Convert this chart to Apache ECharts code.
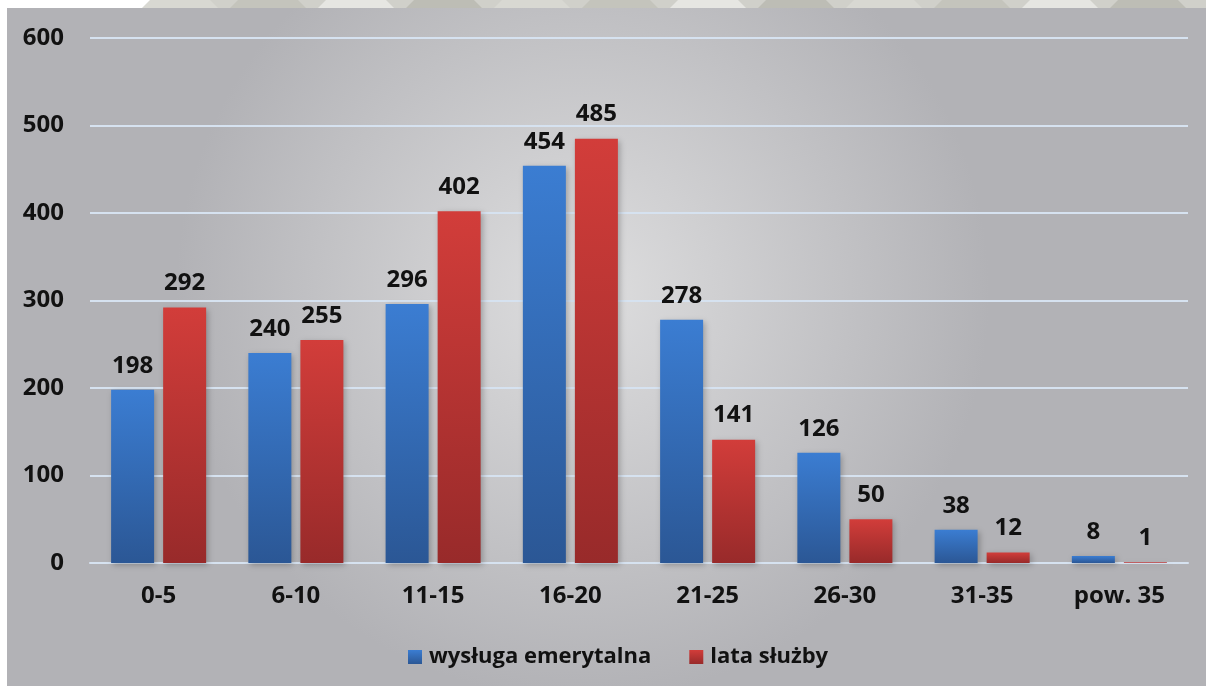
<!DOCTYPE html>
<html><head><meta charset="utf-8">
<script src="https://cdn.jsdelivr.net/npm/echarts@6/dist/echarts.min.js"></script>
<style>html,body{margin:0;padding:0;background:#fff;}#c{width:1206px;height:686px;}</style>
</head><body><div id="c"></div>
<script>
const categories = ['0-5','6-10','11-15','16-20','21-25','26-30','31-35','pow. 35'];
const wysluga = [198,240,296,454,278,126,38,8];
const lata = [292,255,402,485,141,50,12,1];
const seriesNames = ['wysługa emerytalna','lata służby'];

const chart = echarts.init(document.getElementById('c'));
const font = '"Open Sans", Lato, sans-serif';
function grad(top, bottom){
  return new echarts.graphic.LinearGradient(0,0,0,1,[{offset:0,color:top},{offset:1,color:bottom}]);
}
const hexes = [];
for (let i=0;i<12;i++){
  const x0 = 150 + i*88;
  hexes.push({type:'polygon', shape:{points:[[x0,0],[x0+60,0],[x0+68,8],[x0-8,8]]},
    style:{fill: ['#d8d8d2','#c4c4bc','#e6e6e2','#bdbdb5'][i%4]}, z:-10});
}
const txt = {fontFamily:font,fontWeight:'bold',fontSize:24,color:'#111'};
chart.setOption({
  animation:false,
  graphic:[
    {type:'rect', shape:{x:7,y:8,width:1199,height:678}, z:-20,
     style:{fill:new echarts.graphic.RadialGradient(0.48,0.42,0.6,[{offset:0,color:'#dededf'},{offset:1,color:'#b2b2b6'}])}},
    {type:'rect', shape:{x:150,y:0,width:1056,height:8}, z:-15, style:{fill:'#d0d0ca'}},
    ...hexes
  ],
  grid:{left:90,right:18,top:38,bottom:123,containLabel:false},
  legend:{
    data:seriesNames, top:641, left:403, itemWidth:14, itemHeight:14, itemGap:38,
    icon:'rect',
    textStyle:{fontFamily:font,fontWeight:'bold',fontSize:22,color:'#111',padding:[0,0,0,2]}
  },
  xAxis:{
    type:'category', data:categories,
    axisLine:{show:true,lineStyle:{color:'#d6e2f0',width:2}},
    axisTick:{show:false},
    axisLabel:Object.assign({margin:21},txt)
  },
  yAxis:{
    type:'value', min:0, max:600, interval:100,
    axisLine:{show:false}, axisTick:{show:false},
    splitLine:{lineStyle:{color:'#d6e2f0',width:2}},
    axisLabel:Object.assign({margin:26},txt)
  },
  series:[
    {name:seriesNames[0], type:'bar', data:wysluga, barWidth:43, barGap:'21%',
     itemStyle:{color:grad('#3b7dd2','#2b5795'), shadowColor:'rgba(0,0,0,0.25)', shadowBlur:6, shadowOffsetX:2, shadowOffsetY:2},
     label:Object.assign({show:true,position:'top',distance:12},txt)},
    {name:seriesNames[1], type:'bar', data:lata, barWidth:43,
     itemStyle:{color:grad('#d23d3a','#982a2a'), shadowColor:'rgba(0,0,0,0.25)', shadowBlur:6, shadowOffsetX:2, shadowOffsetY:2},
     label:Object.assign({show:true,position:'top',distance:12},txt)}
  ]
});
</script></body></html>
